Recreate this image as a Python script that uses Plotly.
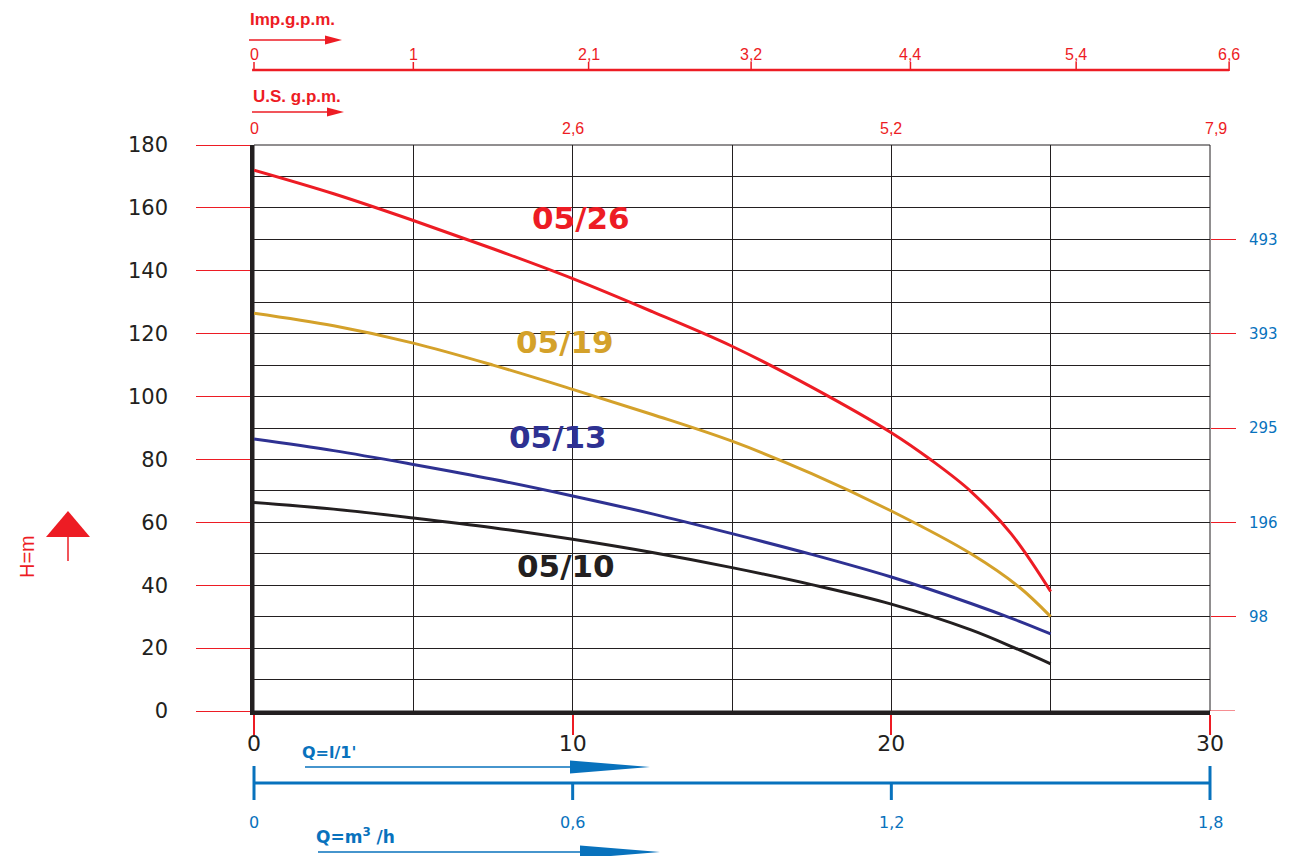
import plotly.graph_objects as go

# ---------------- data ----------------
flow_lpm = [0, 2.5, 5, 7.5, 10, 12.5, 15, 17.5, 20, 22.5, 24, 25]
head_05_19 = [126.5, 122.5, 117, 110, 102.3, 94.3, 85.8, 75.5, 63.6, 50, 39.5, 30]
head_05_13 = [86.5, 82.8, 78.4, 73.7, 68.4, 62.7, 56.4, 49.8, 42.6, 34.2, 28.6, 24.5]
head_05_10 = [66.3, 64.2, 61.4, 58.3, 54.6, 50.4, 45.6, 40.2, 34.0, 25.8, 19.5, 15.0]
flow_lpm_26 = [0, 2.5, 5, 7.5, 10, 12.5, 15, 17.5, 20, 21.25, 22.5, 23.75, 25]
head_05_26 = [172, 164.5, 156, 147, 137.5, 127, 116, 103, 88.5, 79.8, 69.8, 56.5, 38]

series_names = ["05/26", "05/19", "05/13", "05/10"]
series_flows = [flow_lpm_26, flow_lpm, flow_lpm, flow_lpm]
series_heads = [head_05_26, head_05_19, head_05_13, head_05_10]
series_colors = ["#ed1c24", "#d4a12a", "#2e3192", "#231f20"]
label_pos = [(10.26, 156.8), (9.76, 117.4), (9.54, 87.1), (9.79, 46.1)]

x_ticks_lpm = [0, 10, 20, 30]
y_ticks_m = [0, 20, 40, 60, 80, 100, 120, 140, 160, 180]
ft_tick_m = [30, 60, 90, 120, 150]
ft_tick_text = ["98", "196", "295", "393", "493"]

imp_labels = ["0", "1", "2,1", "3,2", "4,4", "5,4", "6,6"]
imp_pos_lpm = [0, 5, 10.5, 15.6, 20.6, 25.8, 30.6]
us_labels = ["0", "2,6", "5,2", "7,9"]
us_pos_lpm = [0, 10, 20, 30.2]
m3h_labels = ["0", "0,6", "1,2", "1,8"]
m3h_pos_lpm = [0, 10, 20, 30]

RED = "#ed1c24"
BLUE = "#0872bd"

# plot area in pixels (for decoration placement)
L, R, T, B = 254, 1210, 145, 711
def PX(px):
    return (px - L) / (R - L)
def PY(py):
    return (B - py) / (B - T)
def LX(lpm):
    return lpm / 30.0

fig = go.Figure()
for name, q, h, c in zip(series_names, series_flows, series_heads, series_colors):
    fig.add_trace(go.Scatter(x=q, y=h, mode="lines", name=name,
                             line=dict(color=c, width=3, shape="spline", smoothing=1.0),
                             showlegend=False, hoverinfo="skip"))
# invisible trace for right axis
fig.add_trace(go.Scatter(x=[0, 30], y=[0, 180], yaxis="y2", mode="markers",
                         marker=dict(opacity=0), showlegend=False, hoverinfo="skip"))

shapes = []
annotations = []

# border (top/right thin lines)
shapes.append(dict(type="rect", xref="paper", yref="paper", x0=0, x1=1, y0=0, y1=1,
                   line=dict(color="#231f20", width=1), layer="below"))
# right-hand tick at 0 m
shapes.append(dict(type="line", xref="paper", yref="y", x0=1, x1=PX(R + 25), y0=0, y1=0,
                   line=dict(color=RED, width=1)))

# curve labels
for name, c, (lx, ly) in zip(series_names, series_colors, label_pos):
    annotations.append(dict(x=lx, y=ly, xref="x", yref="y", text="<b>%s</b>" % name,
                            showarrow=False, font=dict(family="DejaVu Sans", size=31, color=c)))

def arrow(x0, x1, y, head_len, head_h, color, width):
    shapes.append(dict(type="line", xref="paper", yref="paper", x0=PX(x0), x1=PX(x1 - head_len),
                       y0=PY(y), y1=PY(y), line=dict(color=color, width=width)))
    path = "M %f,%f L %f,%f L %f,%f Z" % (PX(x1 - head_len), PY(y - head_h / 2),
                                          PX(x1), PY(y), PX(x1 - head_len), PY(y + head_h / 2))
    shapes.append(dict(type="path", xref="paper", yref="paper", path=path,
                       fillcolor=color, line=dict(color=color, width=0)))

# ---- top Imp.g.p.m. axis ----
annotations.append(dict(x=PX(248), y=PY(20), xref="paper", yref="paper", text="<b>Imp.g.p.m.</b>",
                        showarrow=False, xanchor="left", yanchor="middle",
                        font=dict(family="Liberation Sans", size=17, color=RED)))
arrow(249, 342, 40, 17, 9, RED, 1.5)
imp_y = 70
shapes.append(dict(type="line", xref="paper", yref="paper", x0=LX(imp_pos_lpm[0]) - 0.002,
                   x1=LX(imp_pos_lpm[-1]), y0=PY(imp_y), y1=PY(imp_y),
                   line=dict(color=RED, width=2.5)))
for lab, pos in zip(imp_labels, imp_pos_lpm):
    shapes.append(dict(type="line", xref="paper", yref="paper", x0=LX(pos), x1=LX(pos),
                       y0=PY(imp_y - 8), y1=PY(imp_y + 1), line=dict(color=RED, width=1.5)))
    annotations.append(dict(x=LX(pos), y=PY(55), xref="paper", yref="paper", text=lab,
                            showarrow=False, xanchor="center", yanchor="middle",
                            font=dict(family="Liberation Sans", size=16, color=RED)))

# ---- U.S. g.p.m. ----
annotations.append(dict(x=PX(251), y=PY(96), xref="paper", yref="paper", text="<b>U.S. g.p.m.</b>",
                        showarrow=False, xanchor="left", yanchor="middle",
                        font=dict(family="Liberation Sans", size=17, color=RED)))
arrow(252, 344, 112, 17, 9, RED, 1.5)
for lab, pos in zip(us_labels, us_pos_lpm):
    annotations.append(dict(x=LX(pos), y=PY(128), xref="paper", yref="paper", text=lab,
                            showarrow=False, xanchor="center", yanchor="middle",
                            font=dict(family="Liberation Sans", size=16, color=RED)))

# ---- H=m label with arrow ----
annotations.append(dict(x=PX(27), y=PY(557), xref="paper", yref="paper", text="H=m",
                        textangle=-90, showarrow=False, xanchor="center", yanchor="middle",
                        font=dict(family="Liberation Sans", size=20, color=RED)))
shapes.append(dict(type="path", xref="paper", yref="paper",
                   path="M %f,%f L %f,%f L %f,%f Z" % (PX(46), PY(537), PX(68), PY(511), PX(90), PY(537)),
                   fillcolor=RED, line=dict(color=RED, width=0)))
shapes.append(dict(type="line", xref="paper", yref="paper", x0=PX(68), x1=PX(68),
                   y0=PY(537), y1=PY(561), line=dict(color=RED, width=1.5)))

# ---- bottom m3/h axis ----
annotations.append(dict(x=PX(300), y=PY(752), xref="paper", yref="paper", text="<b>Q=l/1'</b>",
                        showarrow=False, xanchor="left", yanchor="middle",
                        font=dict(family="DejaVu Sans", size=16, color=BLUE)))
arrow(305, 650, 767, 80, 13, BLUE, 1.5)
m3_y = 783
shapes.append(dict(type="line", xref="paper", yref="paper", x0=LX(m3h_pos_lpm[0]),
                   x1=LX(m3h_pos_lpm[-1]), y0=PY(m3_y), y1=PY(m3_y),
                   line=dict(color=BLUE, width=3)))
for i, (lab, pos) in enumerate(zip(m3h_labels, m3h_pos_lpm)):
    top = m3_y - 17 if i in (0, len(m3h_labels) - 1) else m3_y
    shapes.append(dict(type="line", xref="paper", yref="paper", x0=LX(pos), x1=LX(pos),
                       y0=PY(top), y1=PY(m3_y + 17), line=dict(color=BLUE, width=3)))
    annotations.append(dict(x=LX(pos), y=PY(822), xref="paper", yref="paper", text=lab,
                            showarrow=False, xanchor="center", yanchor="middle",
                            font=dict(family="DejaVu Sans", size=16, color=BLUE)))
annotations.append(dict(x=PX(314), y=PY(836), xref="paper", yref="paper",
                        text="<b>Q=m<sup>3</sup> /h</b>",
                        showarrow=False, xanchor="left", yanchor="middle",
                        font=dict(family="DejaVu Sans", size=17, color=BLUE)))
arrow(318, 660, 852, 80, 13, BLUE, 1.5)

fig.update_layout(
    width=1310, height=856,
    margin=dict(l=L, r=1310 - R, t=T, b=856 - B),
    paper_bgcolor="white", plot_bgcolor="white",
    showlegend=False,
    xaxis=dict(range=[0, 30], tickvals=x_ticks_lpm, ticktext=[str(v) for v in x_ticks_lpm],
               showgrid=True, gridcolor="#231f20", gridwidth=1,
               minor=dict(dtick=5, tick0=0, showgrid=True, gridcolor="#231f20", gridwidth=1, ticks=""),
               zeroline=False, showline=True, linecolor="#231f20", linewidth=3.5,
               ticks="outside", ticklen=20, tickwidth=2, tickcolor=RED,
               tickfont=dict(family="DejaVu Sans", size=22, color="#231f20"),
               ticklabelstandoff=-10),
    yaxis=dict(range=[0, 180], tickvals=y_ticks_m, ticktext=[str(v) for v in y_ticks_m],
               showgrid=True, gridcolor="#231f20", gridwidth=1,
               minor=dict(dtick=10, tick0=0, showgrid=True, gridcolor="#231f20", gridwidth=1, ticks=""),
               zeroline=False, showline=True, linecolor="#231f20", linewidth=3.5,
               ticks="outside", ticklen=54, tickwidth=1, tickcolor=RED,
               tickfont=dict(family="DejaVu Sans", size=21, color="#231f20"),
               ticklabelstandoff=24),
    yaxis2=dict(range=[0, 180], overlaying="y", side="right", tickvals=ft_tick_m, ticktext=ft_tick_text,
                showgrid=False, zeroline=False, showline=False,
                ticks="outside", ticklen=25, tickwidth=1, tickcolor=RED,
                tickfont=dict(family="DejaVu Sans", size=15, color=BLUE),
                ticklabelstandoff=10),
    shapes=shapes,
    annotations=annotations,
)

fig.write_html("out.html", config={"displayModeBar": False},
               post_script="document.body.style.margin='0px';")
